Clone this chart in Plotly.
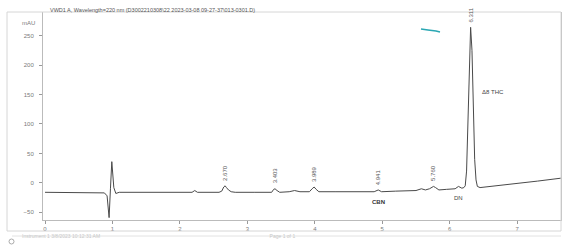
import plotly.graph_objects as go

# ---- data ----
time_min = [0.00, 0.40, 0.80, 0.88, 0.92, 0.95, 0.97, 0.99, 1.02, 1.05, 1.10, 1.20, 1.60, 2.00,
            2.18, 2.22, 2.26, 2.58, 2.62, 2.65, 2.67, 2.69, 2.72, 2.76, 2.82, 3.10, 3.36,
            3.39, 3.41, 3.44, 3.48, 3.62, 3.70, 3.78, 3.92, 3.96, 3.99, 4.02, 4.06, 4.30,
            4.60, 4.88, 4.94, 4.99, 5.20, 5.50, 5.58, 5.64, 5.70, 5.74, 5.76, 5.79, 5.84,
            5.95, 6.08, 6.13, 6.18, 6.21, 6.23, 6.25, 6.27, 6.29, 6.31, 6.33, 6.35, 6.37,
            6.39, 6.41, 6.45, 6.70, 7.00, 7.30, 7.65]
signal_mau = [-16, -16, -16, -17, -22, -59, -10, 36, -8, -18, -16, -16, -16, -16,
              -16, -13, -16, -16, -14, -7, -5, -8, -12, -15, -16, -16, -16,
              -11, -10, -13, -16, -15, -13, -15, -15, -10, -7, -11, -15, -15,
              -15, -15, -12, -15, -14, -13, -10, -12, -10, -7, -6, -8, -12,
              -11, -10, -6, -9, -8, -5, 20, 100, 215, 264, 225, 120, 40,
              5, -6, -8, -5, -1, 3, 8]

peak_times = [2.670, 3.403, 3.989, 4.941, 5.760, 6.311]
peak_heights = [-5, -10, -7, -12, -6, 264]
peak_labels = ["2.670", "3.403", "3.989", "4.941", "5.760", "6.311"]

x_ticks = [0, 1, 2, 3, 4, 5, 6, 7]
y_ticks = [-50, 0, 50, 100, 150, 200, 250]

W, H = 564, 249
L, R, T, B = 43, 3, 12, 29
pw, ph = W - L - R, H - T - B


def px(x):
    return (x - L) / pw


def py(y):
    return (H - B - y) / ph


grey = "#7a7a7a"
fig = go.Figure()
fig.add_trace(go.Scatter(x=time_min, y=signal_mau, mode="lines",
                         line=dict(color="#4a4a4a", width=1), hoverinfo="skip",
                         showlegend=False))

annotations = []
for t, h, lab in zip(peak_times, peak_heights, peak_labels):
    annotations.append(dict(x=t, y=h, xref="x", yref="y", text=lab, textangle=-90,
                            showarrow=False, yanchor="bottom", yshift=3,
                            font=dict(size=6, color="#555555", family="Liberation Sans")))

annotations += [
    dict(x=4.941, y=-15, xref="x", yref="y", text="<b>CBN</b>", showarrow=False,
         yanchor="top", yshift=-5, font=dict(size=6, color="#333333", family="Liberation Sans")),
    dict(x=6.13, y=-10, xref="x", yref="y", text="DN", showarrow=False,
         yanchor="top", yshift=-4, font=dict(size=6, color="#444444", family="Liberation Sans")),
    dict(x=6.45, y=155, xref="x", yref="y", text="Δ8 THC", showarrow=False,
         xanchor="left", font=dict(size=6, color="#444444", family="Liberation Sans")),
    dict(x=px(20), y=py(18), xref="paper", yref="paper", text="mAU", showarrow=False,
         xanchor="left", font=dict(size=6, color=grey, family="Liberation Sans")),
    dict(x=px(48), y=py(5), xref="paper", yref="paper",
         text="VWD1 A, Wavelength=220 nm (D3002210308\\22 2023-03-08 09-27-37\\013-0301.D)",
         showarrow=False, xanchor="left",
         font=dict(size=5.5, color="#555555", family="Liberation Sans")),
    dict(x=px(20), y=py(241), xref="paper", yref="paper",
         text="Instrument 1 3/8/2023 10:12:31 AM                                                       "
              "                                                                   Page 1 of 1",
         showarrow=False, xanchor="left",
         font=dict(size=5, color="#c8c8c8", family="Liberation Sans")),
]

shapes = [
    dict(type="rect", xref="paper", yref="paper", x0=px(7), x1=px(561), y0=py(231), y1=py(12),
         line=dict(color="#d6d6d6", width=1)),
    dict(type="line", xref="paper", yref="paper", x0=px(12), x1=px(561), y0=py(236), y1=py(236),
         line=dict(color="#e2e2e2", width=1)),
    dict(type="circle", xref="paper", yref="paper", x0=px(9), x1=px(14), y0=py(244), y1=py(239),
         line=dict(color="#aaaaaa", width=1)),
    # teal pen mark on the scan
    dict(type="path", xref="paper", yref="paper",
         path=f"M {px(421)} {py(29)} L {px(428)} {py(30)} L {px(436)} {py(31)} L {px(440)} {py(32)}",
         line=dict(color="#2aa7b3", width=1.5)),
]

fig.update_layout(
    width=W, height=H, margin=dict(l=L, r=R, t=T, b=B),
    paper_bgcolor="white", plot_bgcolor="white",
    annotations=annotations, shapes=shapes,
    xaxis=dict(range=[-0.03, 7.65], tickvals=x_ticks, ticks="outside", ticklen=3,
               tickcolor="#999999", showgrid=False, zeroline=False, showline=True,
               linecolor="#bbbbbb", mirror=False,
               tickfont=dict(size=6, color=grey, family="Liberation Sans")),
    yaxis=dict(range=[-63, 290], tickvals=y_ticks, ticks="outside", ticklen=3,
               tickcolor="#999999", showgrid=False, zeroline=False, showline=True,
               linecolor="#bbbbbb", mirror=True, ticklabelstandoff=4,
               tickfont=dict(size=6, color=grey, family="Liberation Sans")),
)

fig.write_html("out.html", config={"displayModeBar": False},
               post_script="document.body.style.margin='0';document.body.style.overflow='hidden';")
